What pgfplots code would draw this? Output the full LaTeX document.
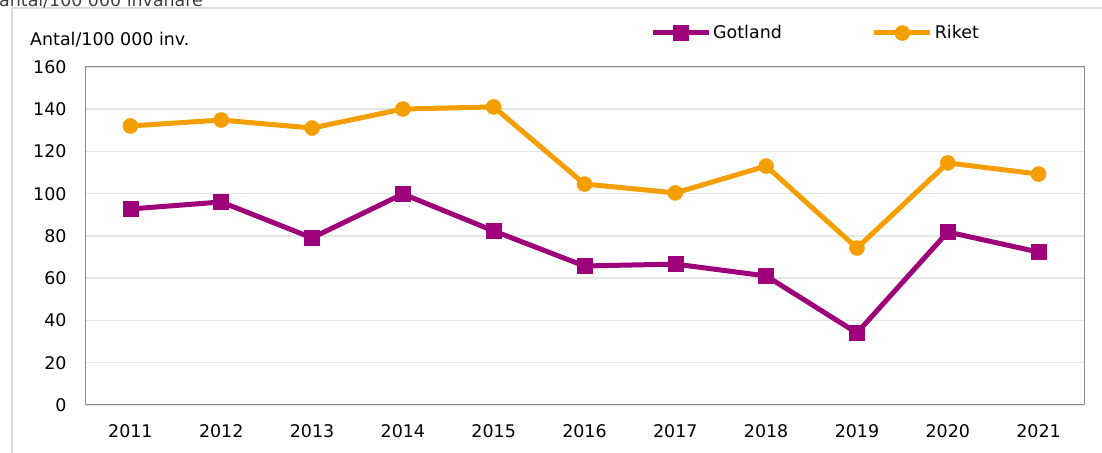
\documentclass[border=0pt]{standalone}
\usepackage{pgfplots}
\pgfplotsset{compat=1.18}
\usepackage{fontspec}
\setmainfont{DejaVu Sans}
\definecolor{gotl}{RGB}{158,0,122}
\definecolor{riket}{RGB}{245,158,0}
\begin{document}
\begin{tikzpicture}
\draw[color=black!14, line width=1.5bp] (12bp,-20bp) -- (12bp,445bp) -- (1130bp,445bp);
\node[anchor=base west, inner sep=0pt, font=\fontsize{17.5}{20}\selectfont, color=black!75] at (-1bp,446bp) {antal/100 000 invånare};
\node[anchor=base west, inner sep=0pt, font=\fontsize{17.5}{20}\selectfont] at (30bp,407bp) {Antal/100 000 inv.};
\begin{axis}[
  at={(85bp,48bp)}, anchor=south west,
  scale only axis, width=999bp, height=338bp,
  xmin=-0.5, xmax=10.5, ymin=0, ymax=160,
  ytick={0,20,...,160},
  xtick={0,...,10},
  xticklabels={2011,2012,2013,2014,2015,2016,2017,2018,2019,2020,2021},
  /pgf/number format/assume math mode=true,
  ymajorgrids, grid style={color=black!10, line width=1.5bp},
  axis line style={color=black!45, line width=1bp},
  tick style={draw=none},
  ticklabel style={font=\fontsize{17.5}{20}\selectfont},
  yticklabel style={xshift=-15bp},
  xticklabel style={yshift=-16bp},
  legend columns=2,
  legend style={at={(0.5656,1.1006)}, anchor=west, draw=none, fill=none,
    inner sep=0pt, font=\fontsize{17.5}{20}\selectfont,
    /tikz/every even column/.append style={column sep=88bp}},
  legend image code/.code={\draw[mark repeat=2,mark phase=2,#1] plot coordinates {(0bp,0bp) (28bp,0bp) (56bp,0bp)};},
]
\addplot[color=gotl, line width=5bp, mark=square*, mark size=7.5bp, mark options={solid, line width=0.5bp}]
coordinates {(0,92.8) (1,96.1) (2,79.1) (3,99.9) (4,82.4) (5,65.8) (6,66.7) (7,61.1) (8,34.1) (9,81.9) (10,72.4)};
\addlegendentry{Gotland}
\addplot[color=riket, line width=5bp, mark=*, mark size=7.5bp, mark options={solid, line width=0.5bp}]
coordinates {(0,132.1) (1,134.9) (2,131.1) (3,140.1) (4,141.1) (5,104.6) (6,100.4) (7,113.1) (8,74.3) (9,114.6) (10,109.3)};
\addlegendentry{Riket}
\end{axis}
\pgfresetboundingbox
\useasboundingbox (0bp,0bp) rectangle (1102bp,453bp);
\end{tikzpicture}
\end{document}
